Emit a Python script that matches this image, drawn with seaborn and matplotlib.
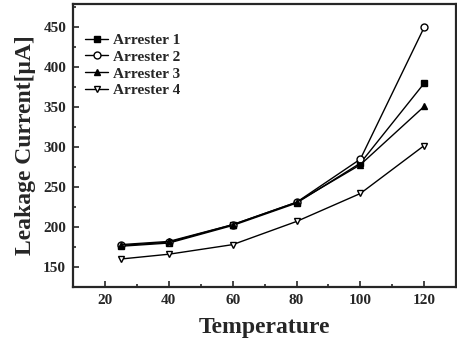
#Import Libraries
import numpy as np
import pandas as pd
import matplotlib
matplotlib.use("Agg")
import matplotlib.pyplot as plt
import seaborn as sns
from matplotlib.ticker import MultipleLocator

#Data
temperature = [25, 40, 60, 80, 100, 120]
arrester_1 = [176, 180, 202, 230, 280, 380]
arrester_2 = [177, 181, 203, 231, 285, 450]
arrester_3 = [178, 182, 203, 231, 278, 351]
arrester_4 = [160, 166, 178, 207, 242, 302]
series_names = ["Arrester 1", "Arrester 2", "Arrester 3", "Arrester 4"]

df = pd.DataFrame({
    "Temperature": temperature * 4,
    "Current": arrester_1 + arrester_2 + arrester_3 + arrester_4,
    "Arrester": np.repeat(series_names, len(temperature)),
})

sns.set_style("ticks")
plt.rcParams['font.family'] = ['Liberation Serif', 'DejaVu Serif']

fig = plt.figure(figsize=(4.57, 3.47), dpi=100)
ax = fig.add_axes([0.16, 0.173, 0.838, 0.815])

#marker styles for each series
styles = {
    "Arrester 1": dict(marker="s", markerfacecolor="black"),
    "Arrester 2": dict(marker="o", markerfacecolor="white"),
    "Arrester 3": dict(marker="^", markerfacecolor="black"),
    "Arrester 4": dict(marker="v", markerfacecolor="white"),
}
for name in series_names:
    sub = df[df["Arrester"] == name]
    sns.lineplot(data=sub, x="Temperature", y="Current", ax=ax, label=name,
                 color="black", linewidth=1.0, markersize=5,
                 markeredgecolor="black", markeredgewidth=1.0, **styles[name])

ax.set_xlim(10, 130)
ax.set_ylim(125, 479)
ax.xaxis.set_major_locator(MultipleLocator(20))
ax.xaxis.set_minor_locator(MultipleLocator(10))
ax.yaxis.set_major_locator(MultipleLocator(50))
ax.yaxis.set_minor_locator(MultipleLocator(25))
ax.set_xticks([20, 40, 60, 80, 100, 120])
ax.tick_params(which="both", direction="in", width=1.2)
ax.tick_params(which="major", length=4, labelsize=11, pad=5)
ax.tick_params(which="minor", length=2.5)
for lbl in ax.get_xticklabels() + ax.get_yticklabels():
    lbl.set_fontweight("bold")
for sp in ax.spines.values():
    sp.set_linewidth(1.6)

ax.set_xlabel("Temperature", fontsize=17, fontweight="bold", labelpad=7)
ax.set_ylabel("Leakage Current[μA]", fontsize=17, fontweight="bold", labelpad=5)

leg = ax.legend(loc="upper left", frameon=False, fontsize=11,
                handlelength=1.5, handletextpad=0.3, labelspacing=0.2,
                bbox_to_anchor=(0.0, 0.94), borderaxespad=0.4)
for t in leg.get_texts():
    t.set_fontweight("bold")

plt.savefig("out.png", dpi=100)
